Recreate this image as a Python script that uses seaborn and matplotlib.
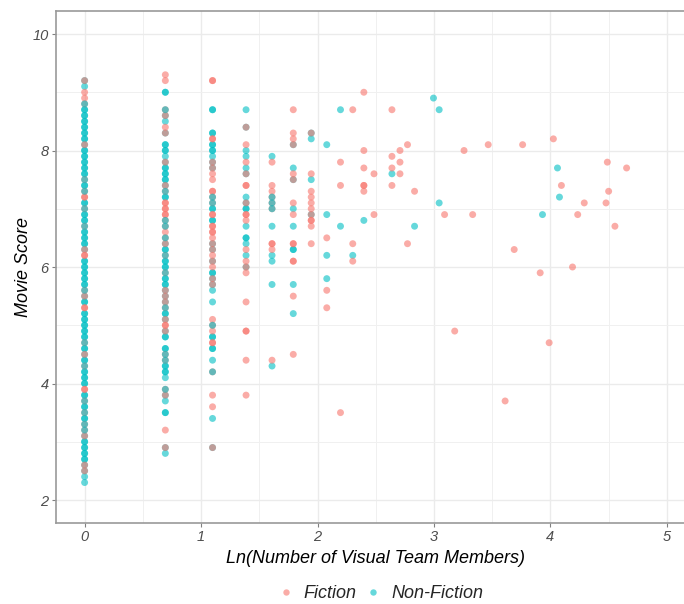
import numpy as np
import pandas as pd
import matplotlib
matplotlib.use("Agg")
import matplotlib.pyplot as plt
from matplotlib.lines import Line2D
import seaborn as sns

# Movie scores by visual team size (scores, 0.1 steps).
# Repeated values = several films with the same score stacked on one spot.

# --- Fiction ---
fic_1 = [9.2, 9.0, 8.9, 8.8, 8.1, 7.5, 7.3, 7.2, 7.2, 7.0, 6.7, 6.3, 6.2, 6.2,
         5.6, 5.5, 5.3, 5.3, 4.7, 4.5, 4.3, 3.9, 3.9, 3.7, 3.5, 3.3, 3.2, 3.1,
         2.6, 2.5]
fic_2 = [9.3, 9.2, 8.7, 8.6, 8.4, 8.3, 7.8, 7.4, 7.3, 7.1, 7.1, 7.0, 7.0, 6.9,
         6.9, 6.8, 6.7, 6.6, 6.5, 6.4, 6.2, 5.9, 5.6, 5.5, 5.4, 5.3, 5.1, 5.0,
         5.0, 4.9, 4.5, 4.4, 3.9, 3.8, 3.2, 2.9]
fic_3 = [9.2, 9.2, 8.2, 8.2, 7.8, 7.7, 7.6, 7.5, 7.3, 7.3, 7.2, 7.1, 6.9, 6.9,
         6.7, 6.7, 6.6, 6.6, 6.5, 6.4, 6.3, 6.2, 6.1, 6.0, 5.8, 5.7, 5.1, 5.0,
         4.9, 4.7, 4.7, 4.2, 3.8, 3.6, 2.9]
fic_4 = [8.4, 8.1, 7.8, 7.6, 7.4, 7.4, 7.1, 6.9, 6.9, 6.8, 6.3, 6.1, 6.0, 5.9,
         5.4, 4.9, 4.9, 4.4, 3.8]
fic_5 = [7.8, 7.4, 7.3, 7.2, 7.1, 7.0, 6.4, 6.4, 6.3, 4.4]
fic_6 = [8.7, 8.3, 8.2, 8.1, 7.6, 7.5, 7.1, 6.9, 6.4, 6.4, 6.1, 6.1, 5.5, 4.5]
fic_7 = [8.3, 7.6, 7.3, 7.2, 7.1, 7.0, 6.9, 6.8, 6.8, 6.7, 6.4]
fic_8 = [6.5, 5.6, 5.3]
fic_9 = [7.8, 7.4, 3.5]
fic_10 = [8.7, 6.4, 6.1]
fic_11 = [9.0, 8.0, 7.7, 7.4, 7.4, 7.3]
fic_big_size = [12, 12, 14, 14, 14, 14, 15, 15, 15, 16, 16, 17, 22, 24, 26, 28,
                32, 37, 40, 43, 50, 54, 56, 60, 66, 69, 73, 88, 89, 90, 95, 105]
fic_big_score = [7.6, 6.9, 8.7, 7.9, 7.7, 7.4, 8.0, 7.8, 7.6, 8.1, 6.4, 7.3, 6.9,
                 4.9, 8.0, 6.9, 8.1, 3.7, 6.3, 8.1, 5.9, 4.7, 8.2, 7.4, 6.0, 6.9,
                 7.1, 7.1, 7.8, 7.3, 6.7, 7.7]

# --- Non-Fiction (listed before the fiction rows in the data) ---
nf_1 = [9.2, 9.1, 8.7, 8.7, 8.6, 8.6, 8.5, 8.5, 8.4, 8.4, 8.3, 8.3, 8.2, 8.2,
        8.1, 8.0, 8.0, 7.9, 7.9, 7.8, 7.8, 7.7, 7.7, 7.6, 7.6, 7.4, 7.4, 7.1,
        7.1, 6.9, 6.9, 6.8, 6.8, 6.6, 6.6, 6.5, 6.5, 6.4, 6.4, 6.3, 6.1, 6.1,
        6.0, 6.0, 5.9, 5.9, 5.8, 5.8, 5.7, 5.7, 5.5, 5.4, 5.4, 5.2, 5.2, 5.1,
        5.1, 5.0, 5.0, 4.9, 4.9, 4.8, 4.8, 4.6, 4.6, 4.5, 4.4, 4.4, 4.2, 4.2,
        4.1, 4.1, 4.0, 4.0, 3.8, 3.8, 3.6, 3.6, 3.4, 3.4, 3.1, 3.0, 3.0, 2.9,
        2.9, 2.8, 2.8, 2.7, 2.7, 2.6, 2.5, 2.4, 2.3]
nf_2 = [9.0, 9.0, 8.6, 8.5, 8.3, 8.1, 8.1, 8.0, 8.0, 7.9, 7.8, 7.7, 7.7, 7.6,
        7.6, 7.5, 7.5, 7.4, 7.2, 7.2, 6.4, 6.3, 6.3, 6.1, 6.1, 6.0, 6.0, 5.8,
        5.8, 5.7, 5.7, 5.6, 5.5, 5.4, 5.2, 5.2, 5.1, 4.9, 4.8, 4.8, 4.6, 4.6,
        4.3, 4.3, 4.2, 4.2, 4.1, 3.8, 3.7, 3.5, 3.5, 2.9, 2.8]
nf_3 = [8.7, 8.7, 8.3, 8.3, 8.1, 8.1, 8.0, 8.0, 7.9, 7.8, 7.7, 7.0, 7.0, 6.8,
        6.8, 6.4, 6.3, 6.1, 5.9, 5.9, 5.8, 5.7, 5.6, 5.4, 4.8, 4.8, 4.6, 4.6,
        4.4, 3.4, 2.9]
nf_4 = [8.7, 8.4, 8.0, 7.9, 7.7, 7.6, 7.2, 7.1, 7.0, 7.0, 6.7, 6.5, 6.5, 6.4,
        6.2, 6.0]
nf_5 = [7.9, 6.7, 6.2, 6.1, 5.7, 4.3]
nf_6 = [8.1, 7.7, 7.5, 7.0, 6.7, 6.3, 6.3, 5.7, 5.2]
nf_7 = [8.3, 8.2, 7.5, 6.9]
nf_8 = [8.1, 6.9, 6.2, 5.8]
nf_9 = [8.7, 6.7]
nf_10 = [6.2]
nf_11 = [6.8]
nf_big_size = [14, 17, 20, 21, 21, 51, 58, 59]
nf_big_score = [7.6, 6.7, 8.9, 8.7, 7.1, 6.9, 7.7, 7.2]

# Non-Fiction rows that come after the fiction rows (drawn on top)
nf_late_1 = [8.8, 7.5, 7.3, 7.0, 6.7, 5.6, 4.7, 4.3, 3.7, 3.5, 3.3, 3.2]
nf_late_2 = [8.7, 7.3, 6.8, 6.7, 6.5, 6.2, 5.9, 5.3, 4.5, 4.4, 3.9]
nf_late_3 = [7.2, 7.1, 5.0, 4.2]
nf_late_5 = [7.2, 7.1, 7.0]

genres = ["Fiction", "Non-Fiction"]
colors = ["#F8766D", "#00BFC4"]


def rows(sizes, scores, genre):
    return pd.DataFrame({"size": sizes, "score": scores, "genre": genre})


nf_small = [nf_1, nf_2, nf_3, nf_4, nf_5, nf_6, nf_7, nf_8, nf_9, nf_10, nf_11]
fic_small = [fic_1, fic_2, fic_3, fic_4, fic_5, fic_6, fic_7, fic_8, fic_9,
             fic_10, fic_11]

parts = []
for n, sc in enumerate(nf_small, start=1):
    parts.append(rows([n] * len(sc), sc, "Non-Fiction"))
parts.append(rows(nf_big_size, nf_big_score, "Non-Fiction"))
for n, sc in enumerate(fic_small, start=1):
    parts.append(rows([n] * len(sc), sc, "Fiction"))
parts.append(rows(fic_big_size, fic_big_score, "Fiction"))
for n, sc in [(1, nf_late_1), (2, nf_late_2), (3, nf_late_3), (5, nf_late_5)]:
    parts.append(rows([n] * len(sc), sc, "Non-Fiction"))

df = pd.concat(parts, ignore_index=True)
df["ln_size"] = np.log(df["size"])

sns.set_theme(style="white")
plt.rcParams["font.family"] = ["Liberation Sans", "DejaVu Sans"]

W, H = 684, 604
fig = plt.figure(figsize=(W / 100, H / 100), dpi=100)
# panel runs a bit past the right edge of the picture (cropped like the reference)
ax = fig.add_axes([55.5 / W, (H - 523.3) / H, (696 - 55.5) / W, (523.3 - 10.7) / H])

sns.scatterplot(data=df, x="ln_size", y="score", hue="genre", hue_order=genres,
                palette=colors, alpha=0.6, s=25, linewidth=0, legend=False, ax=ax)

ax.set_xlim(-0.25, 5.25)
ax.set_ylim(1.6, 10.4)
ax.set_xticks(range(0, 6))
ax.set_yticks([2, 4, 6, 8, 10])
ax.set_xticks(np.arange(0.5, 5.5, 1), minor=True)
ax.set_yticks([3, 5, 7, 9], minor=True)
ax.grid(True, which="major", color="#EBEBEB", linewidth=1.0)
ax.grid(True, which="minor", color="#F0F0F0", linewidth=0.7)
ax.set_axisbelow(True)

for side in ["left", "bottom", "top", "right"]:
    ax.spines[side].set_color("#999999")
    ax.spines[side].set_linewidth(1.2)

ax.tick_params(which="major", length=3, width=0.8, color="#808080",
               labelcolor="#4D4D4D", labelsize=10.5, pad=2,
               left=True, bottom=True)
ax.tick_params(which="minor", length=0)
for lbl in ax.get_xticklabels() + ax.get_yticklabels():
    lbl.set_fontstyle("italic")

ax.set_xlabel("Ln(Number of Visual Team Members)", fontsize=13,
              fontstyle="italic", color="black", labelpad=4)
ax.set_ylabel("Movie Score", fontsize=13, fontstyle="italic", color="black",
              labelpad=0)

handles = [Line2D([], [], marker="o", linestyle="", markersize=4.6,
                  markerfacecolor=c, markeredgewidth=0, alpha=0.6) for c in colors]
leg = fig.legend(handles, genres, loc="center", ncol=2, frameon=False,
                 bbox_to_anchor=(380 / W, 1 - 594 / H), fontsize=13,
                 handlelength=1.0, handletextpad=0.5, columnspacing=0.4)
for t in leg.get_texts():
    t.set_fontstyle("italic")

fig.savefig("out.png", dpi=100)
